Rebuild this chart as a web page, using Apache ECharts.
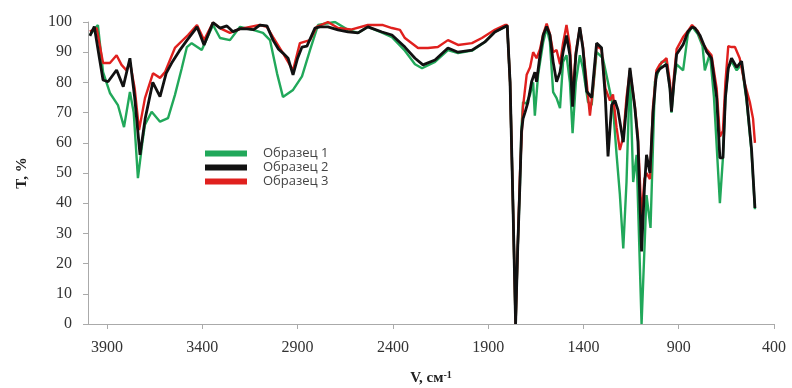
<!DOCTYPE html>
<html>
<head>
<meta charset="utf-8">
<script src="https://cdn.jsdelivr.net/npm/echarts@6/dist/echarts.min.js"></script>
<style>
html,body{margin:0;padding:0;background:#fff;}
#chart{width:792px;height:388px;}
</style>
</head>
<body>
<div id="chart"></div>
<script>
// Wavenumber (cm-1) and transmittance (%) for each sample
var wn1 = [3990,3948,3921,3885,3843,3811,3780,3760,3738,3715,3701,3666,3622,3580,3544,3508,3481,3456,3403,3344,3307,3255,3202,3134,3082,3045,3008,2977,2924,2877,2835,2793,2704,2636,2583,2531,2457,2405,2337,2284,2247,2179,2111,2058,1985,1917,1865,1812,1800,1785,1770,1756,1745,1733,1725,1717,1700,1681,1664,1655,1638,1611,1593,1576,1559,1541,1523,1507,1489,1471,1457,1440,1419,1403,1376,1357,1331,1298,1271,1245,1226,1209,1191,1174,1156,1139,1121,1095,1069,1048,1025,990,964,946,938,925,911,877,852,830,800,775,763,736,715,684,668,655,640,623,596,570,544,518,500];
var t1 = [95.7,99,83.4,76.5,72.5,65.2,76.8,70,48.3,60,66,70.3,67,68.2,75.8,84.7,91.7,93,90.7,99,94.7,94,98.4,97.4,96.4,94,83,75.2,77.5,82,90.7,99,100,97.4,96.4,98.4,96.5,95,90.5,86,84.7,86.8,90.7,89.7,90.5,93.4,96.7,98.4,98.8,80,40,0,25,47,65,73.5,73,75.8,80,69,82.5,93.4,98,93.4,76.8,74.8,71.5,86.8,89,80,63.2,80,89,84.7,73.5,72.5,90,88,80,72,56,43,25,47,84,47,56,0,42.7,31.8,80.2,86.8,87,78,70,80,86,84,96,98.5,96,92,84,89.6,75,40,55,75,84.7,87,84,86,74,57,38];

var wn2 = [3990,3967,3940,3921,3895,3850,3815,3780,3755,3727,3700,3660,3622,3590,3561,3520,3480,3439,3428,3391,3344,3307,3271,3239,3200,3166,3130,3098,3061,3029,3000,2977,2950,2924,2900,2877,2851,2809,2783,2741,2688,2636,2583,2531,2457,2405,2337,2284,2242,2179,2111,2058,1985,1917,1865,1812,1800,1785,1770,1756,1745,1733,1725,1717,1707,1691,1672,1655,1646,1628,1611,1593,1576,1559,1541,1523,1507,1489,1471,1457,1440,1419,1403,1383,1357,1331,1305,1285,1271,1252,1235,1219,1191,1170,1156,1130,1114,1095,1080,1069,1051,1035,1017,999,964,946,938,925,911,877,852,830,815,788,754,728,701,684,668,655,640,623,596,570,544,518,500];
var t2 = [95.4,98.5,88,80.8,80.2,84.1,78.6,88,75,56,68,80,75.3,83,86.4,90.5,94,97.4,98.4,92.4,99.8,98,98.7,96.8,97.8,97.7,97.5,99,98.7,94,91,89.7,88,82.5,88,91.7,92,98,98.4,98.4,97.4,96.7,96.4,98.4,96.7,95.7,91.7,88,85.8,87.4,91.4,90,90.7,93.4,96.7,98.4,98.8,80,40,0,25,47,63.7,68,70,73.5,80.2,83.4,80.2,89,95.7,98.5,95.7,86.8,80.2,83.4,90,95.5,89,72,89,98.3,91.4,77,75,93,91.5,75,55.5,72.5,74,70.9,60.2,75,84.8,71.5,60.4,24,45,56,50,70,83,84.5,86,78,70.3,80,89.3,92.5,96.8,98.3,98,95.5,90.2,88,75,55,55,75,84.7,88,85,87,75,58,38.4];

var wn3 = [3990,3955,3921,3885,3850,3824,3798,3780,3755,3732,3701,3659,3622,3596,3544,3475,3428,3391,3344,3300,3255,3202,3098,3061,3029,2977,2924,2888,2835,2800,2741,2688,2620,2531,2452,2405,2363,2337,2268,2216,2164,2111,2058,1985,1933,1865,1812,1800,1785,1770,1756,1745,1733,1717,1698,1680,1664,1646,1628,1611,1593,1576,1559,1541,1523,1507,1489,1471,1457,1440,1419,1403,1383,1366,1350,1331,1305,1285,1261,1245,1226,1209,1191,1174,1156,1130,1114,1095,1080,1069,1051,1035,1017,999,964,946,938,925,911,877,852,830,800,775,754,728,701,684,668,655,640,623,605,580,555,527,510,500];
var t3 = [96.8,98,86.4,86.4,89,85.8,84,86.8,78,64.2,74.8,83,81.5,83.4,91.4,95.7,99,94,99.8,97.7,96.4,97.7,99,98.4,95,89.7,84,93,94,98.4,100,98,97.5,99,99,98,97.4,94.7,91.4,91.4,91.7,94,92.4,93,94.7,97.4,99,99,80,40,0,25,50,72,82.5,85,90,88,91,96,99.5,96,90,90.7,86,93,99,92,75,90,98,92,80,69,78,92,91,78,74,76,65,57.6,62,75,84,72,62,35,48,50,48,72,84,86,88,80,72,82,91,95,97,99,97,93,91,89,78,62,64,80,92,91.7,91.7,88,80,73.5,68,60];

var seriesNames = ['Образец 1','Образец 2','Образец 3'];
var xTicks = [3900,3400,2900,2400,1900,1400,900,400];

function pairs(xs, ys){ return xs.map(function(x,i){ return [x, ys[i]]; }); }

var chart = echarts.init(document.getElementById('chart'));
chart.setOption({
  animation: false,
  backgroundColor: '#fff',
  grid: {left: 88, right: 18, top: 22, bottom: 64, containLabel: false, outerBoundsMode: 'none'},
  legend: {
    orient: 'vertical', left: 200, top: 142,
    data: seriesNames,
    icon: 'rect', itemWidth: 42, itemHeight: 6, itemGap: 1,
    textStyle: {fontFamily: 'Open Sans', fontSize: 13, color: '#444', padding: [0,0,0,11]}
  },
  xAxis: {
    type: 'value', min: 400, max: 4000, inverse: true,
    name: 'V, см{sup|-1}', nameLocation: 'middle', nameGap: 46,
    nameTextStyle: {fontFamily: 'Liberation Serif', fontWeight: 'bold', fontSize: 15, color: '#222',
      rich: {sup: {fontFamily: 'Liberation Serif', fontWeight: 'bold', fontSize: 10, verticalAlign: 'top', padding: [0,0,6,0], color: '#222'}}},
    axisLine: {show: true, lineStyle: {color: '#aaa', width: 1}},
    axisTick: {show: true, length: 5, customValues: xTicks, lineStyle: {color: '#aaa'}},
    axisLabel: {customValues: xTicks, margin: 16, fontFamily: 'Liberation Serif', fontSize: 16, color: '#333',
      formatter: function(v){ return String(v); }},
    splitLine: {show: false}
  },
  yAxis: {
    type: 'value', min: 0, max: 100, interval: 10,
    name: 'T, %', nameLocation: 'middle', nameGap: 58, nameRotate: 90,
    nameTextStyle: {fontFamily: 'Liberation Serif', fontWeight: 'bold', fontSize: 15, color: '#222'},
    axisLine: {show: true, lineStyle: {color: '#aaa', width: 1}},
    axisTick: {show: true, length: 5, lineStyle: {color: '#aaa'}},
    axisLabel: {margin: 16, fontFamily: 'Liberation Serif', fontSize: 16, color: '#333'},
    splitLine: {show: false}
  },
  series: [
    {name: seriesNames[0], type: 'line', data: pairs(wn1, t1), symbol: 'none', z: 2,
     itemStyle: {color: '#21a85a'}, lineStyle: {color: '#21a85a', width: 2.4}},
    {name: seriesNames[1], type: 'line', data: pairs(wn2, t2), symbol: 'none', z: 4,
     itemStyle: {color: '#111'}, lineStyle: {color: '#111', width: 2.8}},
    {name: seriesNames[2], type: 'line', data: pairs(wn3, t3), symbol: 'none', z: 3,
     itemStyle: {color: '#e0201e'}, lineStyle: {color: '#e0201e', width: 2.4}}
  ]
});
</script>
</body>
</html>
